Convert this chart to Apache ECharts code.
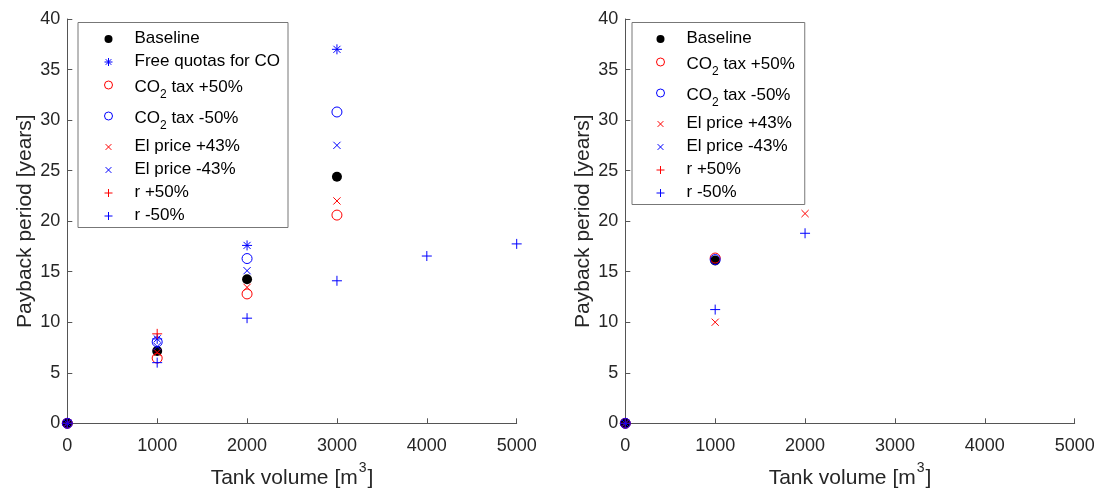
<!DOCTYPE html>
<html><head><meta charset="utf-8">
<script src="https://cdn.jsdelivr.net/npm/echarts@6/dist/echarts.min.js"></script>
<style>html,body{margin:0;padding:0;background:#fff}#c{width:1094px;height:490px}</style>
</head><body><div id="c"></div>
<script>
// ---------- data ----------
const tankVolumes = [0, 1000, 2000, 3000, 4000, 5000];
const xTicks = [0, 1000, 2000, 3000, 4000, 5000];
const yTicks = [0, 5, 10, 15, 20, 25, 30, 35, 40];

const seriesNames = ['Baseline', 'Free quotas for CO', 'CO2 tax +50%', 'CO2 tax -50%',
  'El price +43%', 'El price -43%', 'r +50%', 'r -50%'];

// left panel (values by tank volume index)
const leftBaseline   = [0, 7.15, 14.25, 24.4];
const leftFreeQuotas = [0, 8.35, 17.6, 37.0];
const leftCo2Plus    = [0, 6.45, 12.8, 20.6];
const leftCo2Minus   = [0, 8.05, 16.3, 30.8];
const leftElPlus     = [0, 7.0, 13.45, 22.0];
const leftElMinus    = [0, 7.6, 15.1, 27.5];
const leftRPlus      = [0, 8.85];
const leftRMinus     = [0, 6.0, 10.4, 14.1, 16.55, 17.75];

// right panel
const rightBaseline  = [0, 16.1];
const rightCo2Plus   = [0, 16.35];
const rightCo2Minus  = [0, 16.2];
const rightElPlus    = [0, 10.0, 20.75];
const rightElMinus   = [0];
const rightRPlus     = [0];
const rightRMinus    = [0, 11.25, 18.8];

// ---------- styles ----------
const FONT = 'Liberation Sans, Arial, Helvetica, sans-serif';
const SYM_STAR = 'path://M0,5L10,5M5,0L5,10M1.46,1.46L8.54,8.54M8.54,1.46L1.46,8.54';
const SYM_X = 'path://M0,0M10,10M1.4,1.4L8.6,8.6M8.6,1.4L1.4,8.6';
const SYM_PLUS = 'path://M0,5L10,5M5,0L5,10';
const CLEAR = 'rgba(0,0,0,0)';

const markerStyles = {
  'Baseline': { symbol: 'circle', itemStyle: { color: '#000', borderColor: '#000', borderWidth: 0, opacity: 1 } },
  'Free quotas for CO': { symbol: SYM_STAR, itemStyle: { color: CLEAR, borderColor: '#0000ff', borderWidth: 1, opacity: 1 } },
  'CO2 tax +50%': { symbol: 'circle', itemStyle: { color: CLEAR, borderColor: '#ff0000', borderWidth: 1, opacity: 1 } },
  'CO2 tax -50%': { symbol: 'circle', itemStyle: { color: CLEAR, borderColor: '#0000ff', borderWidth: 1, opacity: 1 } },
  'El price +43%': { symbol: SYM_X, itemStyle: { color: CLEAR, borderColor: '#ff0000', borderWidth: 1, opacity: 1 } },
  'El price -43%': { symbol: SYM_X, itemStyle: { color: CLEAR, borderColor: '#0000ff', borderWidth: 1, opacity: 1 } },
  'r +50%': { symbol: SYM_PLUS, itemStyle: { color: CLEAR, borderColor: '#ff0000', borderWidth: 1, opacity: 1 } },
  'r -50%': { symbol: SYM_PLUS, itemStyle: { color: CLEAR, borderColor: '#0000ff', borderWidth: 1, opacity: 1 } }
};

function pairs(vals) { return vals.map((v, i) => [tankVolumes[i], v]); }

const leftSets = [leftBaseline, leftFreeQuotas, leftCo2Plus, leftCo2Minus, leftElPlus, leftElMinus, leftRPlus, leftRMinus];
const rightSets = [rightBaseline, null, rightCo2Plus, rightCo2Minus, rightElPlus, rightElMinus, rightRPlus, rightRMinus];

const series = [];
seriesNames.forEach((name, k) => {
  const st = markerStyles[name];
  series.push({ type: 'scatter', name, xAxisIndex: 0, yAxisIndex: 0, data: pairs(leftSets[k]),
    symbol: st.symbol, symbolSize: 10, symbolKeepAspect: true, itemStyle: st.itemStyle,
    emphasis: { disabled: true }, animation: false });
  if (rightSets[k]) {
    series.push({ type: 'scatter', name, xAxisIndex: 1, yAxisIndex: 1, data: pairs(rightSets[k]),
      symbol: st.symbol, symbolSize: 10, symbolKeepAspect: true, itemStyle: st.itemStyle,
      emphasis: { disabled: true }, animation: false });
  }
});

function legendFormatter(name) {
  if (name.indexOf('CO2') === 0) {
    return '{a|CO}{s|2}{b|' + name.slice(3) + '}';
  }
  return '{n|' + name + '}';
}
const legendRich = {
  n: { fontFamily: FONT, fontSize: 17, color: '#000', lineHeight: 19, verticalAlign: 'top', padding: [0, 0, 0, 17] },
  a: { fontFamily: FONT, fontSize: 17, color: '#000', lineHeight: 19, verticalAlign: 'top', padding: [3, 0, 0, 17] },
  b: { fontFamily: FONT, fontSize: 17, color: '#000', lineHeight: 19, verticalAlign: 'top', padding: [3, 0, 0, 0] },
  s: { fontFamily: FONT, fontSize: 12, color: '#000', lineHeight: 12, verticalAlign: 'top', padding: [13, 0, 0, 0] }
};
function makeLegend(left, names, padL, padR) {
  return {
    orient: 'vertical', left, top: 22.5, padding: [7, padR, 4, padL], itemGap: 6,
    itemWidth: 8, itemHeight: 8, align: 'left', selectedMode: false,
    backgroundColor: '#fff', borderColor: '#777', borderWidth: 1,
    data: names.map(n => ({ name: n, itemStyle: Object.assign({}, markerStyles[n].itemStyle) })),
    formatter: legendFormatter, textStyle: { rich: legendRich }
  };
}

const axisColor = '#555';
const labelColor = '#262626';
function xAx(gridIndex) {
  return {
    type: 'value', gridIndex, min: xTicks[0], max: xTicks[xTicks.length - 1], interval: 1000,
    name: '{t|Tank volume [m}{p|3}{t|]}', nameLocation: 'middle', nameGap: 38,
    nameTextStyle: { rich: {
      t: { fontFamily: FONT, fontSize: 21, color: labelColor, lineHeight: 23, verticalAlign: 'top', padding: [6, 0, 0, 0] },
      p: { fontFamily: FONT, fontSize: 14, color: labelColor, lineHeight: 14, verticalAlign: 'top', padding: [0, 1, 0, 1] }
    } },
    axisLine: { show: true, onZero: false, lineStyle: { color: axisColor, width: 1 } },
    axisTick: { show: true, inside: true, length: 5, lineStyle: { color: axisColor } },
    axisLabel: { fontFamily: FONT, fontSize: 18, color: labelColor, margin: 14, formatter: v => String(v) },
    splitLine: { show: false }
  };
}
function yAx(gridIndex) {
  return {
    type: 'value', gridIndex, min: yTicks[0], max: yTicks[yTicks.length - 1], interval: 5,
    name: 'Payback period [years]', nameLocation: 'middle', nameGap: 32,
    nameTextStyle: { fontFamily: FONT, fontSize: 21, color: labelColor },
    axisLine: { show: true, onZero: false, lineStyle: { color: axisColor, width: 1 } },
    axisTick: { show: true, inside: true, length: 5, lineStyle: { color: axisColor } },
    axisLabel: { fontFamily: FONT, fontSize: 18, color: labelColor, margin: 7, formatter: v => String(v) },
    splitLine: { show: false }
  };
}

const chart = echarts.init(document.getElementById('c'), null, { renderer: 'canvas' });
chart.setOption({
  backgroundColor: '#fff',
  animation: false,
  grid: [
    { left: 67.3, top: 19, width: 449.4, height: 404.3, containLabel: false, outerBoundsMode: 'none' },
    { left: 625.3, top: 19, width: 449.4, height: 404.3, containLabel: false, outerBoundsMode: 'none' }
  ],
  xAxis: [xAx(0), xAx(1)],
  yAxis: [yAx(0), yAx(1)],
  legend: [
    makeLegend(78, seriesNames, 26, 8),
    makeLegend(632, seriesNames.filter(n => n !== 'Free quotas for CO'), 24, 10)
  ],
  tooltip: { show: false },
  series
});
</script></body></html>
